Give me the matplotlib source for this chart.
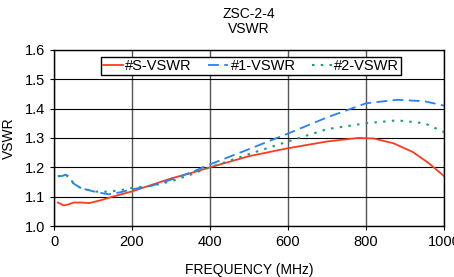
import matplotlib.pyplot as plt

plt.rcParams['font.family'] = ['Liberation Sans', 'DejaVu Sans']

# frequency points (MHz) and VSWR readings
freq_s = [10, 25, 35, 50, 70, 90, 120, 150, 200, 250, 300, 350, 400, 500, 600, 700, 780, 820, 870, 920, 960, 1000]
vswr_s = [1.080, 1.070, 1.073, 1.080, 1.080, 1.078, 1.088, 1.100, 1.118, 1.140, 1.162, 1.180, 1.200, 1.238, 1.265, 1.288, 1.300, 1.298, 1.282, 1.252, 1.215, 1.170]

freq_1 = [10, 20, 30, 40, 50, 65, 80, 110, 140, 170, 200, 250, 300, 350, 400, 500, 600, 700, 800, 880, 950, 1000]
vswr_1 = [1.170, 1.170, 1.175, 1.165, 1.145, 1.132, 1.125, 1.115, 1.108, 1.115, 1.125, 1.137, 1.158, 1.182, 1.210, 1.262, 1.315, 1.370, 1.418, 1.430, 1.425, 1.410]

freq_2 = [10, 20, 30, 40, 50, 65, 80, 110, 140, 170, 200, 250, 300, 350, 400, 500, 600, 700, 800, 880, 950, 1000]
vswr_2 = [1.170, 1.170, 1.175, 1.165, 1.145, 1.132, 1.125, 1.117, 1.117, 1.122, 1.130, 1.137, 1.152, 1.175, 1.200, 1.245, 1.288, 1.330, 1.350, 1.360, 1.350, 1.320]

fig = plt.figure(figsize=(4.54, 2.77), dpi=100)
ax = fig.add_axes([0.119, 0.184, 0.859, 0.636])

ax.plot(freq_s, vswr_s, color='#ff3b1f', lw=1.3, label='#S-VSWR')
ax.plot(freq_1, vswr_1, color='#2680ff', lw=1.3, dashes=(6, 3), label='#1-VSWR')
ax.plot(freq_2, vswr_2, color='#1f9e74', lw=1.5, dashes=(1.2, 3), label='#2-VSWR')

ax.set_xlim(0, 1000)
ax.set_ylim(1.0, 1.6)
ax.set_xticks([0, 200, 400, 600, 800, 1000])
ax.set_yticks([1.0, 1.1, 1.2, 1.3, 1.4, 1.5, 1.6])
ax.set_yticklabels(['1.0', '1.1', '1.2', '1.3', '1.4', '1.5', '1.6'])
ax.grid(axis='y', color='black', lw=0.8)
ax.grid(axis='x', color='#555555', lw=1.0)
for s in ax.spines.values():
    s.set_color('black')
    s.set_linewidth(1.0)
ax.tick_params(labelsize=10.5, length=3, direction='out')

ax.set_xlabel('FREQUENCY (MHz)', fontsize=10, labelpad=10)
ax.set_ylabel('VSWR', fontsize=10, labelpad=6)
ax.set_title('ZSC-2-4\nVSWR', fontsize=10, pad=12, linespacing=1.1)

leg = ax.legend(loc='upper center', bbox_to_anchor=(0.505, 0.96), ncol=3, fontsize=10.5,
                frameon=True, fancybox=False, edgecolor='black', framealpha=1,
                handlelength=1.4, handletextpad=0.15, columnspacing=1.1, borderpad=0.15,
                borderaxespad=0)
leg.get_frame().set_linewidth(1.0)

fig.savefig('out.png', dpi=100)
